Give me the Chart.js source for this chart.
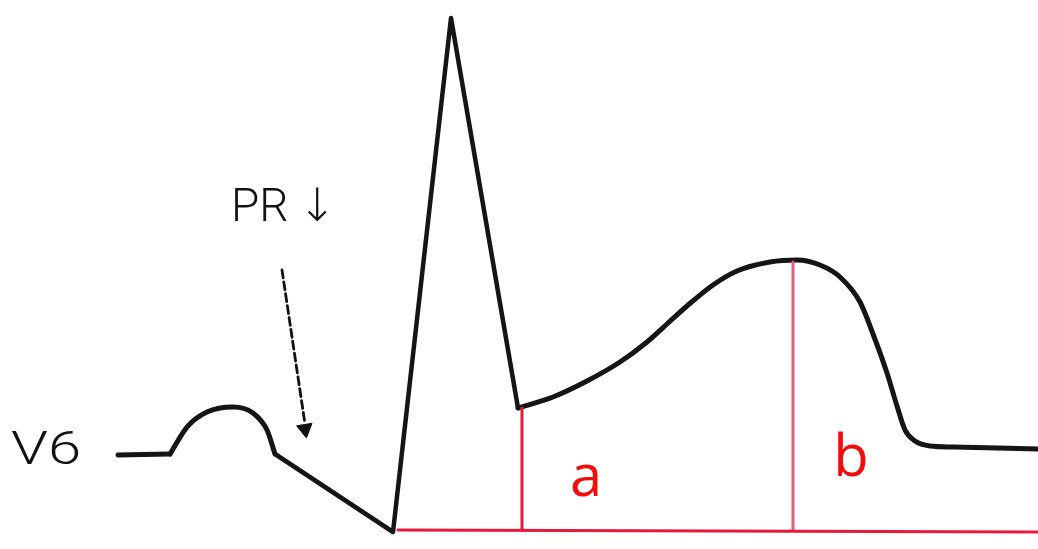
<!DOCTYPE html>
<html>
<head>
<meta charset="utf-8">
<script src="https://cdn.jsdelivr.net/npm/chart.js@4/dist/chart.umd.min.js"></script>
<style>
html,body{margin:0;padding:0;background:#fff;overflow:hidden}
#wrap{position:relative;width:1038px;height:549px}
.lbl{position:absolute;white-space:nowrap;line-height:1;transform-origin:0 50%}
.k{font-family:Roboto,"DejaVu Sans",sans-serif;font-weight:300;font-size:46px;color:#111}
.r{font-family:"Open Sans","Liberation Sans",sans-serif;font-size:58px;color:#f20d0d}
</style>
</head>
<body>
<div id="wrap"><canvas id="c" width="1038" height="549"></canvas></div>
<script>
const el=id=>document.getElementById(id);

// trace: x = time (px), amplitude above the red reference line
const baseT=[118,170], baseA=[75,76];
const pT=[170,187,207,233,253,267,275], pA=[76,103,118,123,117,100,76];
const qrsT=[275,393,451,518], qrsA=[76,-2,512,122];
const stT=[518,553,587,620,647,667,687,713,737,770,797,820,840,860,873,887,897,905,915,930,953,1038];
const stA=[122,133,149,168,188,206,224,245,259,268,270,265,253,228,196,157,124,100,89,84,83,81];
// red reference lines
const refT=[398,1038], refA=[0,-2];
const aT=[522,522], aA=[0,122];
const bT=[793,793], bA=[0,268];
// dashed arrow
const arrT=[282,305], arrA=[260,106];
// labels
const LABELS=[
 {text:"V6",t:11,a:82,cls:"k",anchor:"left",sx:1.3},
 {text:"PR\u2009\u2193",t:231,a:325,cls:"k",anchor:"left"},
 {text:"a",t:586,a:56,cls:"r",anchor:"center"},
 {text:"b",t:851,a:76,cls:"r",anchor:"center"},
];

const pts=(xs,ys)=>xs.map((x,i)=>({x,y:ys[i]}));
const BLK="#151515", RED="#e8173c";
const line=(data,color,w,extra)=>Object.assign({data,showLine:true,borderColor:color,borderWidth:w,
  pointRadius:0,borderCapStyle:"round",borderJoinStyle:"round",fill:false},extra||{});

const labelPlugin={id:"labels",afterDraw(chart){
  const sx=chart.scales.x, sy=chart.scales.y, wrap=el("wrap");
  wrap.querySelectorAll(".lbl").forEach(n=>n.remove());
  LABELS.forEach(l=>{
    const d=document.createElement("div");
    d.className="lbl "+l.cls; d.textContent=l.text;
    d.style.left=sx.getPixelForValue(l.t)+"px"; d.style.top=sy.getPixelForValue(l.a)+"px";
    d.style.transform=(l.anchor==="center"?"translate(-50%,-50%)":"translateY(-50%)")+(l.sx?` scaleX(${l.sx})`:"");
    wrap.appendChild(d);
  });
}};

new Chart(el("c"),{type:"scatter",
  data:{datasets:[
    line(pts(refT,refA),RED,3),
    line(pts(aT,aA),RED,3),
    line(pts(bT,bA),"#e65a7c",3),
    line(pts(baseT,baseA),BLK,5),
    line(pts(pT,pA),BLK,5,{cubicInterpolationMode:"monotone"}),
    line(pts(qrsT,qrsA),BLK,4.5),
    line(pts(stT,stA),BLK,5,{cubicInterpolationMode:"monotone"}),
    line(pts(arrT,arrA),"#111",2.8,{borderDash:[8,4]}),
    {data:[{x:305,y:101}],showLine:false,pointStyle:"triangle",pointRadius:9,rotation:171,
      backgroundColor:"#111",borderColor:"#111",borderWidth:1},
  ]},
  options:{responsive:false,animation:false,events:[],
    layout:{padding:0,autoPadding:false},
    scales:{x:{type:"linear",min:0,max:1038,display:false},
            y:{type:"linear",min:-19,max:530,display:false}},
    plugins:{legend:{display:false},tooltip:{enabled:false}}},
  plugins:[labelPlugin]});
</script>
</body>
</html>
